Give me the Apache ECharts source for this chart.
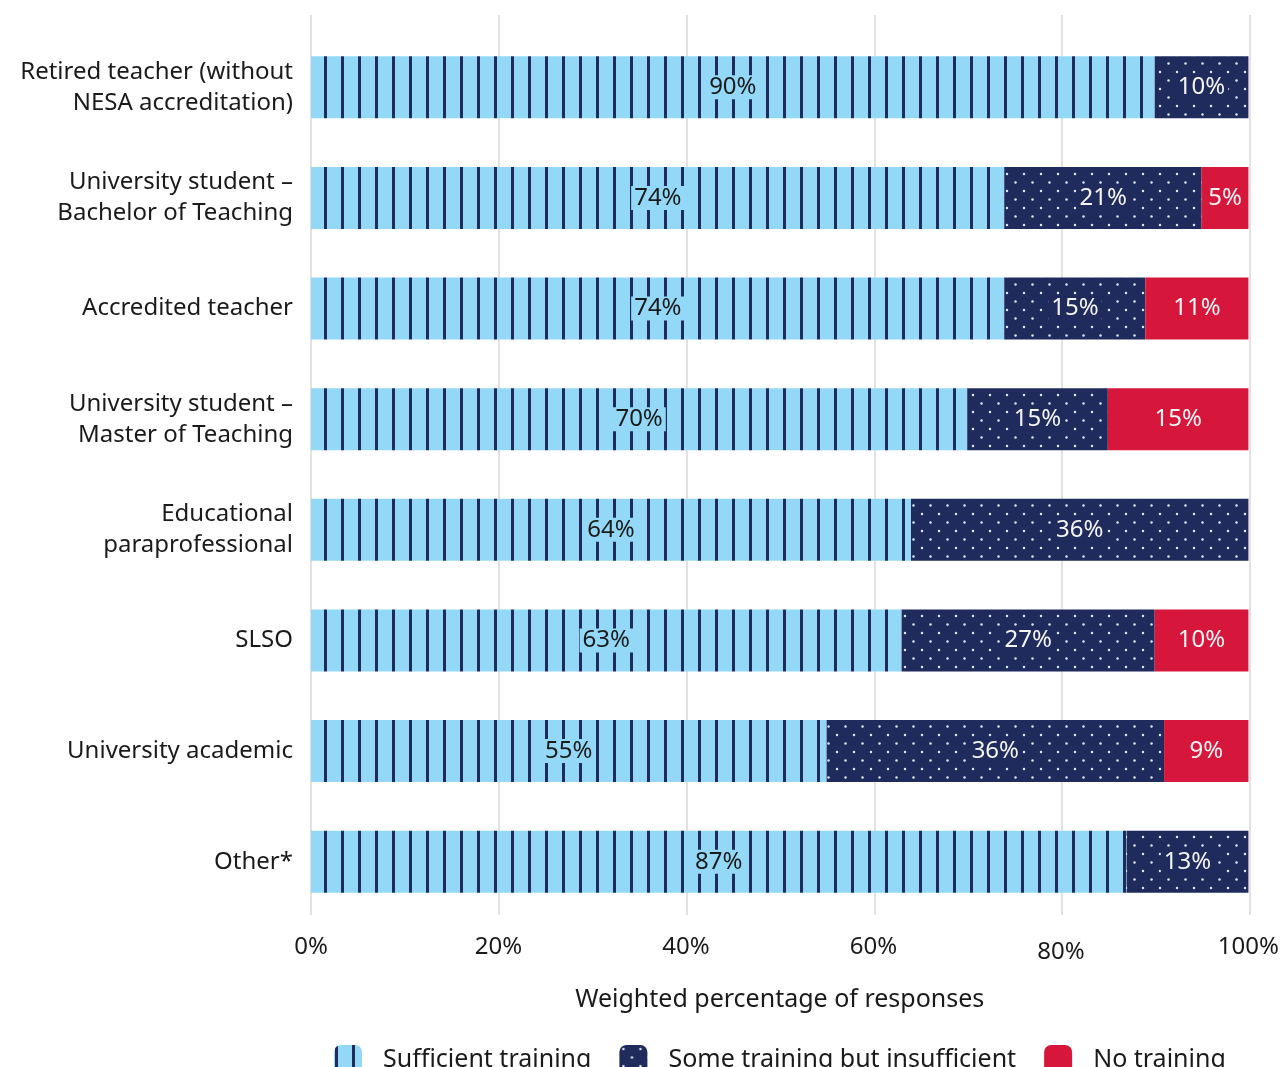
<!DOCTYPE html>
<html>
<head>
<meta charset="utf-8">
<script src="https://cdn.jsdelivr.net/npm/echarts@6/dist/echarts.min.js"></script>
<style>
  html, body { margin: 0; padding: 0; background: #fff; }
  #chart { width: 1282px; height: 1067px; }
</style>
</head>
<body>
<div id="chart"></div>
<script>
// Respondent groups (top to bottom)
const categories = [
  'Retired teacher (without\nNESA accreditation)',
  'University student –\nBachelor of Teaching',
  'Accredited teacher',
  'University student –\nMaster of Teaching',
  'Educational\nparaprofessional',
  'SLSO',
  'University academic',
  'Other*'
];
// Weighted percentage of responses per training level
const sufficient   = [90, 74, 74, 70, 64, 63, 55, 87];
const insufficient = [10, 21, 15, 15, 36, 27, 36, 13];
const noTraining   = [null, 5, 11, 15, null, 10, 9, null];
const xTicks = [0, 20, 40, 60, 80, 100];
const seriesNames = ['Sufficient training', 'Some training but insufficient', 'No training'];

const LIGHT = '#93d9f7';
const NAVY = '#1f2b5c';
const RED = '#d7163c';
const FONT = '"Noto Sans", "Open Sans", sans-serif';
const INK = '#1a1a1a';

// Vertical navy stripes on light blue
function stripePattern() {
  const c = document.createElement('canvas');
  c.width = 17; c.height = 17;
  const g = c.getContext('2d');
  g.fillStyle = LIGHT; g.fillRect(0, 0, 17, 17);
  g.fillStyle = NAVY; g.fillRect(1, 0, 3, 17);
  return c;
}
// Staggered pale dots on navy
function dotPattern() {
  const c = document.createElement('canvas');
  c.width = 17; c.height = 17;
  const g = c.getContext('2d');
  g.fillStyle = NAVY; g.fillRect(0, 0, 17, 17);
  g.fillStyle = '#dbe8f4';
  [[4, 4], [12.5, 12.5]].forEach(([x, y]) => {
    g.beginPath(); g.arc(x, y, 1.25, 0, Math.PI * 2); g.fill();
  });
  return c;
}

const pct = p => p.value == null ? '' : p.value + '%';
const GRID_LEFT = 311, GRID_RIGHT = 32;

const chart = echarts.init(document.getElementById('chart'), null, { renderer: 'canvas' });
chart.setOption({
  animation: false,
  textStyle: { fontFamily: FONT },
  grid: [
    { left: GRID_LEFT, right: GRID_RIGHT, top: 32, bottom: 150 },
    { left: GRID_LEFT, right: GRID_RIGHT, top: 15, bottom: 152 }
  ],
  legend: {
    left: 329, top: 1040,
    itemWidth: 28, itemHeight: 30, itemGap: 28,
    icon: 'roundRect',
    textStyle: { fontSize: 25, color: INK, fontFamily: FONT, padding: [0, 0, 0, 16] },
    data: seriesNames
  },
  xAxis: [
    {
      gridIndex: 0, type: 'value', min: 0, max: 100, interval: 20,
      axisLine: { show: false }, axisTick: { show: false },
      splitLine: { show: false },
      axisLabel: {
        formatter: v => xTicks.includes(v) ? (v === 80 ? '{low|' + v + '%}' : v + '%') : '',
        fontSize: 24, color: INK, margin: 18,
        rich: { low: { fontSize: 24, color: INK, fontFamily: FONT, padding: [5, 0, 0, 0] } }
      },
      name: 'Weighted percentage of responses', nameLocation: 'middle', nameGap: 70,
      nameTextStyle: { fontSize: 25, color: INK }
    },
    {
      // gridlines only, taller than the bar area
      gridIndex: 1, type: 'value', min: 0, max: 100, interval: 20,
      axisLine: { show: false }, axisTick: { show: false }, axisLabel: { show: false },
      splitLine: { show: true, lineStyle: { color: '#e2e2e2', width: 2 } }
    }
  ],
  yAxis: [
    {
      gridIndex: 0, type: 'category', data: categories, inverse: true,
      axisLine: { show: false }, axisTick: { show: false },
      axisLabel: { fontSize: 24, color: INK, lineHeight: 31, align: 'right', margin: 18 }
    },
    {
      gridIndex: 1, type: 'category', data: categories, show: false
    }
  ],
  series: [
    {
      name: seriesNames[0], type: 'bar', stack: 'total', data: sufficient,
      xAxisIndex: 0, yAxisIndex: 0, barWidth: 62,
      itemStyle: { color: { image: stripePattern(), repeat: 'repeat' } },
      label: {
        show: true, position: 'inside', formatter: pct, fontSize: 24, color: INK,
        backgroundColor: LIGHT, padding: [0, 3]
      },
      z: 3
    },
    {
      name: seriesNames[1], type: 'bar', stack: 'total', data: insufficient,
      xAxisIndex: 0, yAxisIndex: 0, barWidth: 62,
      itemStyle: { color: { image: dotPattern(), repeat: 'repeat' } },
      label: {
        show: true, position: 'inside', formatter: pct, fontSize: 24, color: '#f4f4f4',
        backgroundColor: NAVY, padding: [0, 3]
      },
      z: 3
    },
    {
      name: seriesNames[2], type: 'bar', stack: 'total', data: noTraining,
      xAxisIndex: 0, yAxisIndex: 0, barWidth: 62,
      itemStyle: { color: RED },
      label: { show: true, position: 'inside', formatter: pct, fontSize: 24, color: '#f4f4f4' },
      z: 3
    }
  ]
});
</script>
</body>
</html>
